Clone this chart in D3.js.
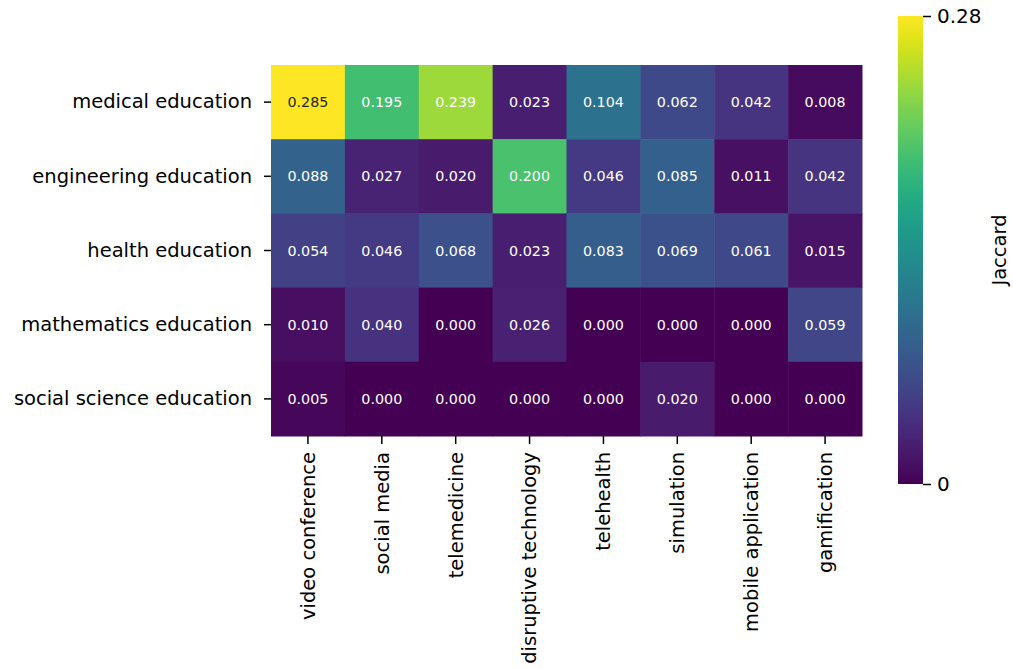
<!DOCTYPE html>
<html>
<head>
<meta charset="utf-8">
<script src="https://cdn.jsdelivr.net/npm/d3@7"></script>
<style>
  body { margin: 0; background: #fff; }
  svg { display: block; }
  text { font-family: "DejaVu Sans", sans-serif; }
</style>
</head>
<body>
<svg id="chart" width="1013" height="669"></svg>
<script>
// Rows (fields of education) and columns (technologies)
const rows = ["medical education", "engineering education", "health education",
              "mathematics education", "social science education"];
const cols = ["video conference", "social media", "telemedicine", "disruptive technology",
              "telehealth", "simulation", "mobile application", "gamification"];

// Jaccard similarity, one array per row
const medical     = [0.285, 0.195, 0.239, 0.023, 0.104, 0.062, 0.042, 0.008];
const engineering = [0.088, 0.027, 0.020, 0.200, 0.046, 0.085, 0.011, 0.042];
const health      = [0.054, 0.046, 0.068, 0.023, 0.083, 0.069, 0.061, 0.015];
const mathematics = [0.010, 0.040, 0.000, 0.026, 0.000, 0.000, 0.000, 0.059];
const socialSci   = [0.005, 0.000, 0.000, 0.000, 0.000, 0.020, 0.000, 0.000];
const values = [medical, engineering, health, mathematics, socialSci];

const colorTicks = [0, 0.28];
const colorMax = 0.28;

const svg = d3.select("#chart");
const plotLeft = 271, plotTop = 65, plotRight = 862, plotBottom = 436;
const labelFont = "'DejaVu Sans', sans-serif";

const x = d3.scaleBand().domain(cols).range([plotLeft, plotRight]);
const y = d3.scaleBand().domain(rows).range([plotTop, plotBottom]);
const color = d3.scaleSequential(d3.interpolateViridis).domain([0, colorMax]).clamp(true);

const cells = [];
values.forEach((arr, i) => arr.forEach((v, j) => cells.push({ r: rows[i], c: cols[j], v })));

svg.append("g").selectAll("rect").data(cells).join("rect")
  .attr("x", d => x(d.c)).attr("y", d => y(d.r))
  .attr("width", x.bandwidth() + 0.5).attr("height", y.bandwidth() + 0.5)
  .attr("fill", d => color(d.v));

svg.append("g").selectAll("text").data(cells).join("text")
  .attr("x", d => x(d.c) + x.bandwidth() / 2)
  .attr("y", d => y(d.r) + y.bandwidth() / 2)
  .attr("text-anchor", "middle").attr("dominant-baseline", "central")
  .attr("font-size", 14.3)
  .attr("fill", d => (d3.hsl(color(d.v)).l > 0.55 ? "#262626" : "#ffffff"))
  .text(d => d.v.toFixed(3));

// Axes
const yAxis = svg.append("g").attr("transform", `translate(${plotLeft},0)`)
  .call(d3.axisLeft(y).tickSize(7).tickPadding(12));
const xAxis = svg.append("g").attr("transform", `translate(0,${plotBottom})`)
  .call(d3.axisBottom(x).tickSize(8).tickPadding(8));
[yAxis, xAxis].forEach(g => {
  g.select(".domain").remove();
  g.selectAll(".tick line").attr("stroke", "#000").attr("stroke-width", 1.5);
  g.selectAll(".tick text").attr("font-size", 19.5).attr("fill", "#000")
    .style("font-family", labelFont);
});
xAxis.selectAll(".tick text")
  .attr("transform", "rotate(-90)")
  .attr("text-anchor", "end")
  .attr("dy", "0.35em")
  .attr("x", -16).attr("y", 0);

// Colour bar
const cbX = 898, cbW = 25, cbTop = 16, cbBottom = 484;
const defs = svg.append("defs");
const grad = defs.append("linearGradient").attr("id", "cb")
  .attr("x1", 0).attr("y1", 1).attr("x2", 0).attr("y2", 0);
d3.range(0, 1.0001, 0.05).forEach(t => {
  grad.append("stop").attr("offset", t).attr("stop-color", d3.interpolateViridis(t));
});
svg.append("rect").attr("x", cbX).attr("y", cbTop)
  .attr("width", cbW).attr("height", cbBottom - cbTop).attr("fill", "url(#cb)");

const cScale = d3.scaleLinear().domain([0, colorMax]).range([cbBottom, cbTop]);
const cAxis = svg.append("g").attr("transform", `translate(${cbX + cbW},0)`)
  .call(d3.axisRight(cScale).tickValues(colorTicks).tickFormat(d => d === 0 ? "0" : d3.format(".2f")(d))
    .tickSize(8).tickPadding(6));
cAxis.select(".domain").remove();
cAxis.selectAll(".tick line").attr("stroke", "#000").attr("stroke-width", 1.5);
cAxis.selectAll(".tick text").attr("font-size", 20).attr("fill", "#000")
  .style("font-family", labelFont);

svg.append("text")
  .attr("transform", `translate(1006,${(cbTop + cbBottom) / 2}) rotate(-90)`)
  .attr("text-anchor", "middle")
  .attr("font-size", 19.5).attr("fill", "#000")
  .style("font-family", labelFont)
  .text("Jaccard");
</script>
</body>
</html>
